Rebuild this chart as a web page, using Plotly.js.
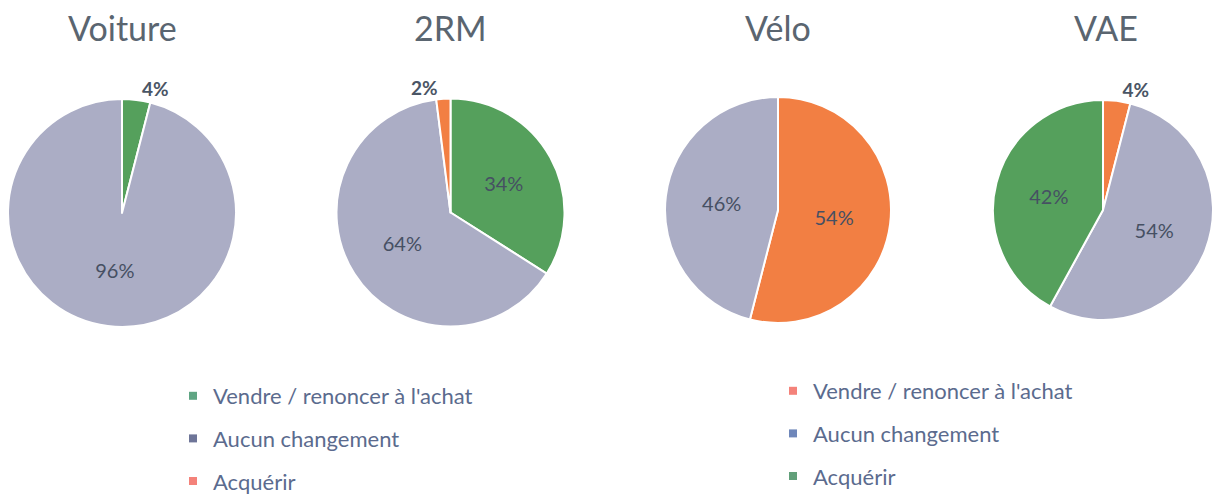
<!DOCTYPE html>
<html>
<head>
<meta charset="utf-8">
<script src="https://cdn.plot.ly/plotly-3.0.1.min.js"></script>
<style>html,body{margin:0;padding:0;background:#fff;}#chart{width:1213px;height:497px;}</style>
</head>
<body>
<div id="chart"></div>
<script>
// ---- Data ----
const categories = ["Vendre / renoncer à l'achat", "Aucun changement", "Acquérir"];
const chartTitles = ["Voiture", "2RM", "Vélo", "VAE"];
const voitureValues = [4, 96, 0];
const deuxRMValues = [34, 64, 2];
const veloValues = [54, 46, 0];
const vaeValues = [4, 54, 42];
const allValues = [voitureValues, deuxRMValues, veloValues, vaeValues];

// ---- Styles ----
const GREEN = '#55A05C', GREY = '#ABADC5', ORANGE = '#F27F43';
const pieColorsA = [GREEN, GREY, ORANGE];   // Voiture, 2RM
const pieColorsB = [ORANGE, GREY, GREEN];   // Vélo, VAE
const legColorsA = ['#5FA583', '#6E7598', '#F4827A'];
const legColorsB = ['#F4827A', '#6F87BA', '#62A07A'];
const FONT = 'Lato, "Open Sans", sans-serif';
const W = 1213, H = 497;

const geom = [
  {cx: 122, cy: 213, r: 114},
  {cx: 450.5, cy: 212.5, r: 114},
  {cx: 778, cy: 210, r: 113},
  {cx: 1106, cy: 210, r: 113}
];

const traces = [];
allValues.forEach((vals, k) => {
  const g = geom[k];
  const labs = [], v = [], cols = [], pos = [];
  const colorSet = k < 2 ? pieColorsA : pieColorsB;
  vals.forEach((val, i) => {
    if (val > 0) {
      labs.push(categories[i]); v.push(val); cols.push(colorSet[i]);
      pos.push(val < 10 ? 'outside' : 'inside');
    }
  });
  traces.push({
    type: 'pie',
    labels: labs,
    values: v,
    sort: false,
    direction: 'clockwise',
    rotation: 0,
    textinfo: 'percent',
    texttemplate: '%{percent:.0%}',
    textposition: pos,
    insidetextorientation: 'horizontal',
    insidetextfont: {family: FONT, size: 20, color: '#465063'},
    outsidetextfont: {family: FONT, size: 19, color: '#4A5565', weight: 'bold'},
    marker: {colors: cols, line: {color: '#ffffff', width: 2}},
    showlegend: false,
    hoverinfo: 'none',
    domain: {
      x: [(g.cx - g.r) / W, (g.cx + g.r) / W],
      y: [(H - (g.cy + g.r)) / H, (H - (g.cy - g.r)) / H]
    }
  });
});

// legend entries
categories.forEach((c, i) => {
  traces.push({type: 'scatter', mode: 'markers', x: [null], y: [null], name: c,
    marker: {symbol: 'square', size: 8, color: legColorsA[i]},
    legend: 'legend', legendgroup: 'a' + i, hoverinfo: 'skip'});
});
categories.forEach((c, i) => {
  traces.push({type: 'scatter', mode: 'markers', x: [null], y: [null], name: c,
    marker: {symbol: 'square', size: 8, color: legColorsB[i]},
    legend: 'legend2', legendgroup: 'b' + i, hoverinfo: 'skip'});
});

const legendCommon = {
  xanchor: 'left', yanchor: 'top', orientation: 'v',
  tracegroupgap: 11, itemwidth: 30,
  bgcolor: 'rgba(0,0,0,0)', borderwidth: 0,
  font: {family: FONT, size: 22, color: '#5B6B8E'},
  itemclick: false, itemdoubleclick: false
};

const layout = {
  width: W, height: H,
  margin: {l: 0, r: 0, t: 0, b: 0, autoexpand: false},
  paper_bgcolor: '#ffffff', plot_bgcolor: '#ffffff',
  showlegend: true,
  xaxis: {visible: false}, yaxis: {visible: false},
  legend: Object.assign({}, legendCommon, {x: 173 / W, y: (H - 375) / H}),
  legend2: Object.assign({}, legendCommon, {x: 773 / W, y: (H - 370) / H}),
  annotations: chartTitles.map((t, k) => ({
    text: t, showarrow: false, xref: 'paper', yref: 'paper',
    x: geom[k].cx / W, y: (H - 27) / H, xanchor: 'center', yanchor: 'middle',
    font: {family: FONT, size: 34, color: '#5A6570'}
  }))
};

Plotly.newPlot('chart', traces, layout, {displayModeBar: false, staticPlot: true});
</script>
</body>
</html>
